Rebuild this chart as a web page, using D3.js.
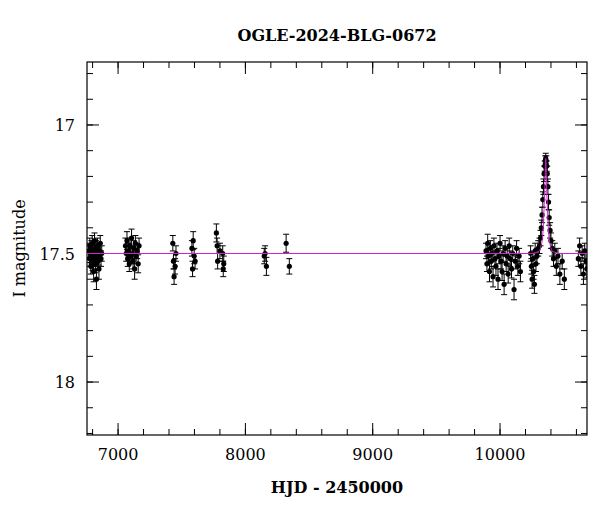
<!DOCTYPE html>
<html><head><meta charset="utf-8">
<script src="https://cdn.jsdelivr.net/npm/d3@7"></script>
<style>body{margin:0;background:#fff}text{font-family:"DejaVu Serif","Liberation Serif",serif}</style>
</head><body><svg id="c" width="600" height="512"></svg>
<script>
const title = "OGLE-2024-BLG-0672";
const xLabel = "HJD - 2450000";
const yLabel = "I magnitude";
const xTicks = [7000, 8000, 9000, 10000];
const yTicks = [17, 17.5, 18];
// observations: [HJD-2450000, I mag, error]
const season1 = [[6770,17.49,.03],[6775,17.52,.03],[6778,17.47,.03],[6782,17.50,.035],[6786,17.55,.03],[6790,17.48,.03],[6793,17.51,.03],[6797,17.46,.03],[6800,17.53,.035],[6804,17.50,.03],[6808,17.57,.04],[6811,17.49,.03],[6815,17.45,.03],[6819,17.52,.03],[6822,17.54,.035],[6826,17.48,.03],[6830,17.60,.04],[6834,17.50,.03],[6838,17.47,.03],[6842,17.53,.03],[6846,17.51,.035],[6850,17.56,.04],[6855,17.49,.03],[6860,17.46,.03],[6866,17.52,.03],[6872,17.50,.03]];
const season2 = [[7058,17.47,.03],[7064,17.50,.03],[7070,17.45,.035],[7076,17.52,.03],[7082,17.49,.03],[7088,17.54,.03],[7094,17.47,.03],[7100,17.51,.03],[7106,17.44,.035],[7112,17.50,.03],[7118,17.53,.03],[7124,17.48,.03],[7130,17.56,.04],[7136,17.46,.03],[7142,17.51,.03],[7150,17.49,.03],[7158,17.54,.035],[7165,17.47,.03]];
const sparse = [[7430,17.46,.03],[7435,17.53,.03],[7440,17.59,.03],[7448,17.55,.03],[7455,17.50,.03],[7580,17.48,.03],[7585,17.56,.03],[7590,17.45,.035],[7598,17.51,.03],[7605,17.53,.03],[7772,17.42,.035],[7778,17.47,.03],[7782,17.53,.03],[7800,17.49,.03],[7822,17.50,.03],[7826,17.56,.03],[7830,17.54,.03],[8148,17.51,.03],[8155,17.50,.03],[8165,17.55,.035],[8320,17.46,.035],[8345,17.55,.03]];
const season9 = [[9890,17.49,.03],[9897,17.54,.03],[9903,17.46,.035],[9910,17.51,.03],[9917,17.57,.04],[9924,17.48,.03],[9931,17.53,.03],[9938,17.50,.03],[9945,17.59,.04],[9952,17.47,.03],[9960,17.52,.03],[9968,17.55,.035],[9976,17.49,.03],[9984,17.60,.04],[9992,17.51,.03],[10000,17.46,.03],[10008,17.53,.03],[10016,17.57,.035],[10024,17.50,.03],[10032,17.62,.04],[10040,17.48,.03],[10048,17.54,.03],[10056,17.51,.03],[10064,17.58,.035],[10072,17.47,.03],[10080,17.52,.03],[10090,17.56,.035],[10100,17.50,.03],[10110,17.64,.04],[10120,17.53,.03],[10130,17.48,.03],[10140,17.55,.035],[10150,17.51,.03],[10160,17.57,.04]];
const season10 = [[10240,17.50,.03],[10246,17.55,.03],[10252,17.60,.035],[10258,17.52,.03],[10264,17.57,.03],[10270,17.62,.035],[10276,17.49,.03],[10282,17.54,.03],[10290,17.51,.03],[10300,17.48,.03],[10310,17.47,.03],[10318,17.44,.03],[10324,17.40,.03],[10330,17.35,.03],[10336,17.29,.03],[10341,17.24,.03],[10346,17.19,.03],[10351,17.16,.02],[10355,17.14,.02],[10359,17.13,.02],[10363,17.14,.02],[10367,17.16,.02],[10371,17.19,.03],[10376,17.24,.03],[10381,17.30,.03],[10386,17.36,.03],[10393,17.41,.03],[10400,17.45,.03],[10410,17.48,.03],[10420,17.52,.03],[10430,17.49,.03],[10442,17.55,.035],[10455,17.51,.03],[10470,17.58,.04],[10488,17.53,.03],[10505,17.60,.04],[10615,17.52,.03],[10625,17.47,.03],[10635,17.55,.035],[10645,17.50,.03],[10655,17.58,.04],[10665,17.49,.03],[10675,17.53,.03],[10682,17.56,.035]];
const modelT = [6750,10240,10290,10310,10322,10335,10347,10353,10359,10365,10371,10383,10396,10408,10430,10480,10700];
const modelM = [17.5,17.5,17.495,17.49,17.47,17.43,17.31,17.23,17.13,17.23,17.31,17.43,17.47,17.49,17.495,17.5,17.5];

const obs = [].concat(season1, season2, sparse, season9, season10);
const svg = d3.select("#c");
const L=87,R=587,T=62,B=435;
const x = d3.scaleLinear().domain([6756,10683]).range([L,R]);
const y = d3.scaleLinear().domain([16.755,18.206]).range([T,B]);
const g = svg.append("g");
g.append("rect").attr("x",L).attr("y",T).attr("width",R-L).attr("height",B-T).attr("fill","none").attr("stroke","#000").attr("stroke-width",1.2);
const xMin = d3.range(6800,10700,200), yMin = d3.range(16.8,18.21,0.1);
function tk(vals,len,isX){vals.forEach(v=>{
  if(isX){const p=x(v);g.append("line").attr("x1",p).attr("x2",p).attr("y1",B).attr("y2",B-len).attr("stroke","#000");
    g.append("line").attr("x1",p).attr("x2",p).attr("y1",T).attr("y2",T+len).attr("stroke","#000");}
  else{const p=y(v);g.append("line").attr("y1",p).attr("y2",p).attr("x1",L).attr("x2",L+len).attr("stroke","#000");
    g.append("line").attr("y1",p).attr("y2",p).attr("x1",R).attr("x2",R-len).attr("stroke","#000");}
});}
tk(xMin,6,true);tk(xTicks,12,true);tk(yMin,6,false);tk(yTicks,12,false);
xTicks.forEach(v=>g.append("text").attr("x",x(v)).attr("y",B+25).attr("text-anchor","middle").attr("font-size",16).text(d3.format("d")(v)));
yTicks.forEach(v=>g.append("text").attr("x",L-12).attr("y",y(v)+6).attr("text-anchor","end").attr("font-size",16).text(v));
svg.append("text").attr("x",337).attr("y",41).attr("text-anchor","middle").attr("font-size",16).attr("font-weight","bold").text(title);
svg.append("text").attr("x",337).attr("y",493).attr("text-anchor","middle").attr("font-size",16).attr("font-weight","bold").text(xLabel);
svg.append("text").attr("transform",`translate(25,${(T+B)/2}) rotate(-90)`).attr("text-anchor","middle").attr("font-size",16).text(yLabel);
svg.append("clipPath").attr("id","cp").append("rect").attr("x",L).attr("y",T).attr("width",R-L).attr("height",B-T);
const d = svg.append("g").attr("clip-path","url(#cp)");
obs.forEach(o=>{
  const px=x(o[0]), y1=y(o[1]-o[2]), y2=y(o[1]+o[2]);
  d.append("line").attr("x1",px).attr("x2",px).attr("y1",y1).attr("y2",y2).attr("stroke","#000").attr("stroke-width",1);
  [y1,y2].forEach(yy=>d.append("line").attr("x1",px-3).attr("x2",px+3).attr("y1",yy).attr("y2",yy).attr("stroke","#000"));
  d.append("circle").attr("cx",px).attr("cy",y(o[1])).attr("r",2.6).attr("fill","#000");
});
d.append("path").attr("d",d3.line().x((t,i)=>x(t)).y((t,i)=>y(modelM[i])).curve(d3.curveMonotoneX)(modelT))
 .attr("fill","none").attr("stroke","#d020d0").attr("stroke-width",1);
</script></body></html>
